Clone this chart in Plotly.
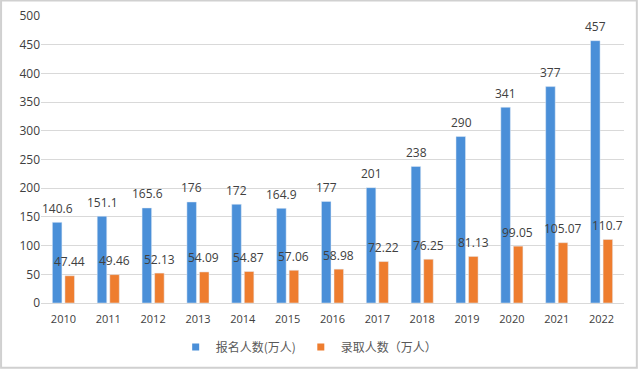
import plotly.graph_objects as go

years = ["2010", "2011", "2012", "2013", "2014", "2015", "2016", "2017", "2018", "2019", "2020", "2021", "2022"]
applicants = [140.6, 151.1, 165.6, 176, 172, 164.9, 177, 201, 238, 290, 341, 377, 457]
admitted = [47.44, 49.46, 52.13, 54.09, 54.87, 57.06, 58.98, 72.22, 76.25, 81.13, 99.05, 105.07, 110.7]
applicant_labels = ["140.6", "151.1", "165.6", "176", "172", "164.9", "177", "201", "238", "290", "341", "377", "457"]
admitted_labels = ["47.44", "49.46", "52.13", "54.09", "54.87", "57.06", "58.98", "72.22", "76.25", "81.13", "99.05", "105.07", "110.7"]
series_names = ["报名人数(万人)", "录取人数（万人）"]

BLUE = "#4a8fd8"
ORANGE = "#ee7d2f"
TXT = "#404040"

fig = go.Figure()
fig.add_trace(go.Bar(x=years, y=applicants, name=series_names[0], marker_color=BLUE, showlegend=False))
fig.add_trace(go.Bar(x=years, y=admitted, name=series_names[1], marker_color=ORANGE, showlegend=False))
# legend entries with small square swatches
for nm, col in zip(series_names, [BLUE, ORANGE]):
    fig.add_trace(go.Scatter(x=[None], y=[None], mode="markers", name=nm,
                             marker=dict(symbol="square", size=7, color=col)))

font_family = "Noto Sans CJK SC, Open Sans, sans-serif"
for i, (v, t) in enumerate(zip(applicants, applicant_labels)):
    fig.add_annotation(x=i, y=v, text=t, showarrow=False, xshift=-6, yshift=14,
                       font=dict(size=12, color=TXT, family="Open Sans"))
for i, (v, t) in enumerate(zip(admitted, admitted_labels)):
    fig.add_annotation(x=i, y=v, text=t, showarrow=False, xshift=6, yshift=14,
                       font=dict(size=12, color=TXT, family="Open Sans"))

fig.update_layout(
    width=640, height=369,
    margin=dict(l=41, r=16, t=16, b=66, autoexpand=False),
    paper_bgcolor="#ffffff", plot_bgcolor="#ffffff",
    barmode="group", bargap=0.44, bargroupgap=0.24,
    font=dict(family=font_family, color=TXT, size=12),
    showlegend=True,
    legend=dict(orientation="h", x=0.46, xanchor="center", y=-0.153, yanchor="middle",
                font=dict(size=12, color="#595959"), itemwidth=30),
    xaxis=dict(type="category", range=[-0.5, len(years) - 0.5], showgrid=False, showline=True,
               linecolor="#d9d9d9", ticks="outside", ticklen=6, tickcolor="rgba(0,0,0,0)",
               tickfont=dict(size=11, color=TXT, family="Open Sans")),
    yaxis=dict(range=[0, 500], dtick=50, showgrid=True, gridcolor="#d9d9d9",
               zeroline=False, showline=False, ticks="",
               tickfont=dict(size=12, color=TXT, family="Open Sans")),
    shapes=[dict(type="rect", xref="paper", yref="paper", x0=-0.0685, x1=1.022, y0=-0.226, y1=1.054,
                 line=dict(color="#d0d0d0", width=2))],
)

fig.write_html("out.html", config={"displayModeBar": False},
               post_script="document.body.style.margin='0';")
